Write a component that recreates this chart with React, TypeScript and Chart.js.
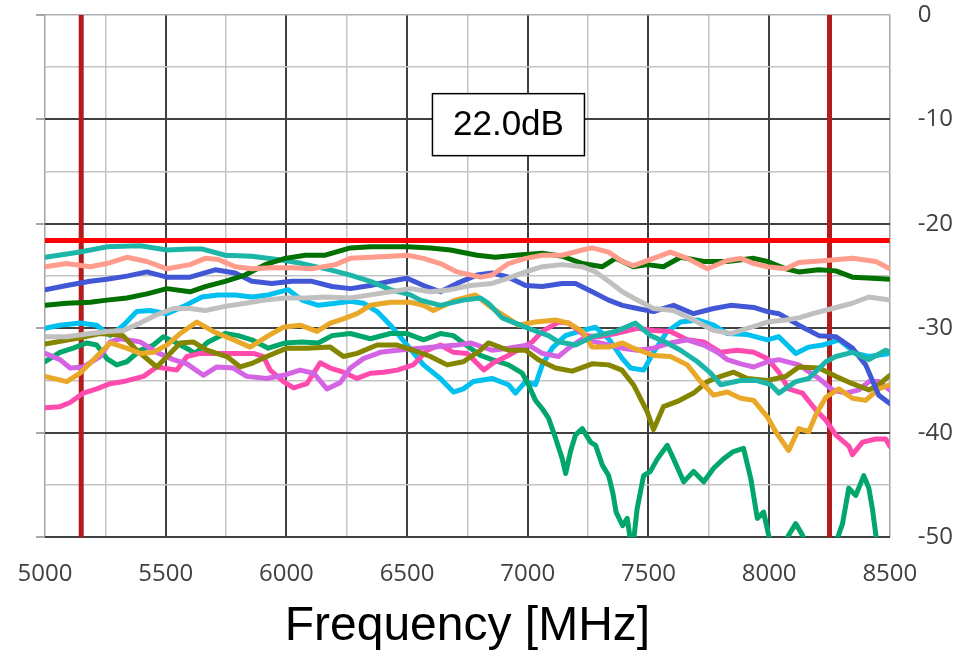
import React, { useEffect, useRef } from "react";
import { Chart, registerables } from "chart.js";

Chart.register(...registerables);

// ---- axes / annotation values ----
const X_MIN = 5000;
const X_MAX = 8500;
const X_STEP = 250;
const X_LABEL_EVERY = 500;
const Y_MIN = -50;
const Y_MAX = 0;
const Y_STEP = 5;
const Y_LABEL_EVERY = 10;
const LIMIT_DB = -21.6;
const MARKER_FREQS = [5150, 8250];
const LABEL_TEXT = "22.0dB";
const LABEL_AT = [6920, -10.5];
const X_TITLE = "Frequency [MHz]";

// ---- series: [MHz, dB] ----
const SILVER: number[][] = [[5000,-30.8],[5090,-30.8],[5187,-30.5],[5256,-30.3],[5325,-30.2],[5394,-29.5],[5463,-28.7],[5532,-28.1],[5601,-28.1],[5664,-28.3],[5746,-27.9],[5829,-27.6],[5912,-27.3],[5995,-27.1],[6078,-27.1],[6161,-27.0],[6265,-27.1],[6348,-26.8],[6431,-26.5],[6514,-26.2],[6597,-26.5],[6680,-26.3],[6763,-25.9],[6852,-25.7],[6920,-25.2],[6991,-24.6],[7060,-24.1],[7143,-23.9],[7226,-24.1],[7281,-24.6],[7335,-25.5],[7392,-26.5],[7438,-27.1],[7521,-28.1],[7604,-28.3],[7687,-29.2],[7770,-30.2],[7841,-30.5],[7910,-30.0],[7993,-29.4],[8069,-29.2],[8123,-29.0],[8180,-28.6],[8262,-28.1],[8345,-27.6],[8413,-27.0],[8500,-27.3]];
const SALMON: number[][] = [[5000,-24.1],[5090,-23.8],[5187,-24.1],[5256,-23.8],[5339,-23.2],[5422,-23.6],[5505,-24.3],[5601,-23.9],[5664,-23.3],[5717,-23.4],[5788,-24.1],[5857,-24.3],[5940,-24.2],[6023,-24.2],[6106,-24.3],[6203,-23.9],[6265,-23.3],[6348,-23.2],[6431,-23.1],[6500,-23.0],[6568,-23.3],[6638,-23.8],[6707,-24.6],[6804,-25.1],[6852,-24.9],[6920,-23.8],[6991,-23.3],[7060,-23.0],[7143,-23.0],[7226,-22.5],[7267,-22.3],[7335,-22.7],[7392,-23.6],[7438,-24.0],[7521,-23.3],[7591,-22.7],[7661,-23.3],[7744,-24.3],[7827,-23.5],[7882,-23.3],[7937,-23.8],[7993,-24.1],[8069,-24.3],[8123,-23.7],[8235,-23.5],[8345,-23.3],[8442,-23.6],[8500,-24.3]];
const DARK_GREEN: number[][] = [[5000,-27.8],[5090,-27.6],[5187,-27.5],[5256,-27.3],[5339,-27.1],[5422,-26.7],[5505,-26.2],[5601,-26.5],[5664,-26.0],[5746,-25.5],[5829,-24.9],[5912,-23.9],[5995,-23.3],[6078,-23.0],[6161,-23.0],[6265,-22.3],[6348,-22.2],[6431,-22.2],[6500,-22.2],[6597,-22.3],[6680,-22.5],[6790,-23.0],[6866,-23.2],[6949,-23.0],[7060,-22.8],[7143,-23.1],[7226,-23.8],[7309,-24.1],[7364,-23.3],[7438,-24.1],[7495,-23.9],[7562,-24.1],[7633,-23.2],[7729,-23.6],[7827,-23.6],[7936,-23.3],[7993,-23.6],[8069,-24.3],[8123,-24.6],[8206,-24.4],[8276,-24.5],[8345,-25.1],[8428,-25.2],[8500,-25.3]];
const TEAL: number[][] = [[5000,-23.2],[5145,-22.7],[5256,-22.2],[5394,-22.1],[5505,-22.5],[5601,-22.4],[5650,-22.4],[5746,-23.0],[5857,-23.1],[5995,-23.5],[6065,-23.8],[6182,-24.4],[6265,-24.9],[6348,-25.5],[6431,-26.3],[6514,-26.8],[6555,-27.3],[6638,-27.8],[6733,-27.3],[6804,-27.1],[6837,-27.6],[6894,-29.0],[7003,-30.0],[7086,-30.7],[7127,-31.3],[7198,-31.6],[7267,-30.8],[7364,-30.3],[7446,-29.5],[7509,-30.7],[7578,-31.4],[7633,-32.1],[7703,-33.2],[7758,-34.3],[7799,-35.4],[7882,-35.0],[7950,-35.0],[8007,-35.4],[8040,-36.2],[8110,-35.1],[8164,-34.8],[8235,-33.2],[8276,-32.7],[8345,-32.3],[8413,-33.0],[8483,-32.1],[8500,-32.3]];
const BLUE: number[][] = [[5000,-26.3],[5090,-25.9],[5187,-25.5],[5256,-25.3],[5339,-25.0],[5422,-24.6],[5505,-25.1],[5601,-25.1],[5705,-24.4],[5788,-24.7],[5857,-25.5],[5940,-25.7],[6023,-25.5],[6106,-25.5],[6189,-26.0],[6265,-26.2],[6348,-25.9],[6431,-25.5],[6500,-25.2],[6568,-25.9],[6638,-26.5],[6707,-25.7],[6790,-24.9],[6852,-24.7],[6920,-25.1],[6991,-25.9],[7060,-26.0],[7143,-25.7],[7198,-25.7],[7267,-26.5],[7335,-27.3],[7392,-27.8],[7454,-28.1],[7521,-28.4],[7604,-27.8],[7687,-28.6],[7770,-28.1],[7841,-27.8],[7936,-28.0],[7993,-28.4],[8040,-28.6],[8123,-29.7],[8206,-30.7],[8276,-30.8],[8345,-31.9],[8400,-33.5],[8454,-36.4],[8500,-37.2]];
const ORANGE: number[][] = [[5000,-34.6],[5090,-35.1],[5145,-34.3],[5214,-32.7],[5270,-31.4],[5339,-31.9],[5394,-32.4],[5448,-32.3],[5505,-31.6],[5560,-30.5],[5629,-29.4],[5697,-30.3],[5780,-31.1],[5850,-31.8],[5919,-30.8],[5987,-29.9],[6057,-29.7],[6127,-30.3],[6182,-29.5],[6236,-29.1],[6293,-28.6],[6348,-27.8],[6431,-27.5],[6514,-27.5],[6568,-27.8],[6609,-28.3],[6700,-27.3],[6783,-26.8],[6837,-27.8],[6961,-29.7],[7032,-29.4],[7115,-29.2],[7169,-29.5],[7226,-30.3],[7267,-31.8],[7335,-31.8],[7392,-31.4],[7438,-31.9],[7521,-32.6],[7591,-32.7],[7661,-33.5],[7716,-35.1],[7770,-36.4],[7827,-36.1],[7882,-36.7],[7936,-36.9],[7993,-38.5],[8027,-39.9],[8081,-41.7],[8123,-39.6],[8164,-39.9],[8193,-38.3],[8235,-36.6],[8289,-35.8],[8345,-36.7],[8400,-36.9],[8454,-35.8],[8500,-35.4]];
const OLIVE: number[][] = [[5000,-31.5],[5145,-30.9],[5228,-30.5],[5323,-30.7],[5380,-32.1],[5463,-33.7],[5518,-32.4],[5560,-31.4],[5614,-31.3],[5671,-32.1],[5754,-32.7],[5809,-33.7],[5863,-33.3],[5919,-32.7],[6002,-31.9],[6085,-31.9],[6182,-31.8],[6236,-32.7],[6293,-32.4],[6376,-31.6],[6459,-31.6],[6526,-32.1],[6597,-32.7],[6666,-33.5],[6733,-33.2],[6804,-32.1],[6837,-31.4],[6920,-32.1],[6991,-32.1],[7044,-33.0],[7115,-33.8],[7184,-34.1],[7267,-33.4],[7335,-33.5],[7390,-34.0],[7438,-35.4],[7495,-38.0],[7521,-39.7],[7562,-37.5],[7620,-37.0],[7687,-36.2],[7744,-35.1],[7799,-34.6],[7853,-34.2],[7910,-34.8],[7993,-35.0],[8069,-34.6],[8123,-33.7],[8206,-33.8],[8276,-34.6],[8345,-35.3],[8413,-35.9],[8454,-35.4],[8500,-34.5]];
const ORCHID: number[][] = [[5000,-32.4],[5062,-33.0],[5104,-33.8],[5159,-33.7],[5228,-32.7],[5270,-31.3],[5311,-31.0],[5394,-31.3],[5463,-32.3],[5532,-33.0],[5588,-33.4],[5656,-34.5],[5712,-33.7],[5780,-33.8],[5836,-34.6],[5919,-34.8],[5988,-34.5],[6057,-34.0],[6113,-34.3],[6168,-35.8],[6223,-35.2],[6265,-33.8],[6319,-32.9],[6389,-32.3],[6459,-32.1],[6555,-31.9],[6707,-31.6],[6763,-31.4],[6852,-32.1],[6920,-31.9],[7003,-31.6],[7060,-32.4],[7127,-32.7],[7169,-31.9],[7226,-31.0],[7281,-31.3],[7335,-31.6],[7392,-31.9],[7454,-32.1],[7521,-31.9],[7591,-31.4],[7661,-31.1],[7729,-31.6],[7786,-32.3],[7827,-33.0],[7882,-33.4],[7936,-33.7],[7993,-33.2],[8040,-33.0],[8123,-33.5],[8206,-34.8],[8262,-35.9],[8318,-36.2],[8372,-35.9],[8413,-35.1],[8454,-35.1],[8500,-35.9]];
const PINK: number[][] = [[5000,-37.6],[5062,-37.5],[5104,-37.1],[5159,-36.2],[5214,-35.8],[5270,-35.3],[5325,-35.1],[5408,-34.6],[5463,-33.7],[5546,-34.0],[5588,-32.7],[5643,-32.4],[5754,-32.4],[5864,-32.4],[5905,-32.7],[5933,-34.0],[5988,-35.1],[6030,-35.7],[6085,-35.3],[6140,-33.3],[6182,-33.8],[6236,-34.2],[6293,-34.8],[6348,-34.3],[6403,-34.2],[6459,-34.0],[6526,-33.5],[6583,-32.1],[6638,-31.6],[6692,-32.3],[6749,-32.4],[6818,-34.0],[6858,-33.3],[6928,-32.5],[7018,-31.3],[7060,-30.3],[7127,-29.4],[7169,-29.5],[7239,-30.7],[7293,-30.8],[7364,-30.5],[7454,-30.0],[7521,-30.2],[7591,-30.3],[7661,-31.1],[7729,-31.3],[7799,-32.3],[7868,-32.1],[7936,-32.3],[7993,-32.9],[8040,-34.2],[8081,-35.8],[8138,-36.2],[8193,-37.8],[8235,-38.8],[8276,-40.2],[8331,-41.3],[8345,-42.1],[8387,-40.9],[8442,-40.6],[8483,-40.6],[8500,-41.3]];
const JADE: number[][] = [[5000,-33.2],[5062,-32.3],[5117,-31.9],[5173,-31.4],[5214,-31.6],[5256,-32.9],[5297,-33.5],[5339,-33.2],[5394,-32.1],[5449,-31.6],[5491,-30.8],[5546,-31.4],[5601,-32.1],[5622,-32.4],[5676,-31.3],[5746,-30.5],[5800,-30.7],[5857,-31.1],[5925,-31.9],[5995,-31.4],[6065,-31.3],[6132,-31.4],[6189,-30.7],[6265,-30.5],[6348,-31.0],[6431,-30.5],[6500,-30.5],[6568,-31.1],[6638,-30.5],[6692,-30.7],[6763,-31.9],[6804,-32.6],[6852,-33.0],[6920,-33.5],[6977,-34.3],[7003,-35.4],[7032,-36.9],[7060,-37.7],[7086,-38.6],[7115,-40.5],[7143,-42.5],[7157,-43.9],[7177,-41.8],[7198,-40.2],[7226,-39.6],[7260,-40.9],[7281,-41.2],[7309,-43.1],[7335,-44.1],[7352,-45.7],[7366,-47.6],[7393,-48.9],[7412,-48.2],[7433,-51.5],[7453,-47.3],[7480,-44.1],[7508,-43.7],[7537,-42.5],[7578,-41.2],[7604,-42.5],[7646,-44.7],[7687,-43.7],[7729,-44.7],[7770,-43.4],[7811,-42.5],[7852,-41.8],[7894,-41.5],[7924,-44.4],[7951,-48.2],[7977,-47.6],[7998,-49.8],[8027,-52.0],[8081,-49.8],[8110,-48.7],[8138,-49.8],[8172,-52.0],[8255,-52.0],[8304,-48.7],[8330,-45.3],[8359,-46.0],[8392,-44.1],[8413,-45.3],[8428,-47.3],[8449,-51.0],[8500,-53.0]];
const SKY: number[][] = [[5000,-30.0],[5062,-29.7],[5145,-29.5],[5214,-29.7],[5270,-30.7],[5325,-29.7],[5380,-28.4],[5435,-28.3],[5505,-28.6],[5574,-27.9],[5650,-27.0],[5717,-26.8],[5788,-26.8],[5857,-27.0],[5925,-26.8],[6008,-26.3],[6065,-27.3],[6132,-27.8],[6203,-27.6],[6265,-27.4],[6319,-27.6],[6376,-28.4],[6431,-29.7],[6500,-31.6],[6568,-33.5],[6638,-34.8],[6692,-36.1],[6733,-35.8],[6775,-35.1],[6852,-34.8],[6920,-35.4],[6949,-36.2],[6991,-35.1],[7032,-35.4],[7060,-33.5],[7101,-31.9],[7156,-30.7],[7226,-30.2],[7281,-29.9],[7335,-31.0],[7392,-32.9],[7426,-33.8],[7480,-34.0],[7521,-32.3],[7578,-30.3],[7633,-29.4],[7703,-29.2],[7770,-29.7],[7827,-30.5],[7910,-30.6],[7993,-31.1],[8040,-30.8],[8110,-32.4],[8164,-31.8],[8221,-31.6],[8289,-31.1],[8359,-32.4],[8413,-32.7],[8500,-32.4]];

const SERIES_DATA = [SILVER, SALMON, DARK_GREEN, TEAL, BLUE, ORANGE, OLIVE, ORCHID, PINK, JADE, SKY];
const SERIES_COLORS = ["#C0C0C0", "#FF9C8C", "#007000", "#1CB5A8", "#4257D6", "#EAA829", "#858500", "#D464E4", "#FF4BAE", "#00A66A", "#00C0F0"];

const TICK_FONT = { family: '"Open Sans", "Noto Sans", sans-serif', size: 24 };

const labelBoxPlugin = {
  id: "labelBox",
  afterDraw(chart: any) {
    const { ctx, scales } = chart;
    const cx = scales.x.getPixelForValue(LABEL_AT[0]);
    const cy = scales.y.getPixelForValue(LABEL_AT[1]);
    const w = 152;
    const h = 62;
    ctx.save();
    ctx.fillStyle = "#ffffff";
    ctx.fillRect(cx - w / 2, cy - h / 2, w, h);
    ctx.strokeStyle = "#000000";
    ctx.lineWidth = 1.5;
    ctx.strokeRect(cx - w / 2, cy - h / 2, w, h);
    ctx.fillStyle = "#000000";
    ctx.font = '35px "Liberation Sans", Arial, sans-serif';
    ctx.textAlign = "center";
    ctx.textBaseline = "middle";
    ctx.fillText(LABEL_TEXT, cx, cy + 1);
    ctx.restore();
  },
};

export default function App() {
  const ref = useRef<HTMLCanvasElement | null>(null);

  useEffect(() => {
    if (!ref.current) return;
    const lineBase = {
      pointRadius: 0,
      tension: 0,
      borderJoinStyle: "round",
      borderCapStyle: "round",
      clip: 0,
      xAxisID: "x",
      yAxisID: "y",
    };
    const datasets: any[] = SERIES_DATA.map((s, i) => ({
      ...lineBase,
      data: s.map(([x, y]) => ({ x, y })),
      borderColor: SERIES_COLORS[i],
      borderWidth: 5,
    }));
    datasets.push({
      ...lineBase,
      borderCapStyle: "butt",
      data: [{ x: X_MIN, y: LIMIT_DB }, { x: X_MAX, y: LIMIT_DB }],
      borderColor: "#FF0000",
      borderWidth: 5,
    });
    MARKER_FREQS.forEach((f) =>
      datasets.push({
        ...lineBase,
        borderCapStyle: "butt",
        data: [{ x: f, y: Y_MAX }, { x: f, y: Y_MIN }],
        borderColor: "#B21C1C",
        borderWidth: 5,
      })
    );

    const chart = new Chart(ref.current, {
      type: "line",
      data: { datasets },
      plugins: [labelBoxPlugin],
      options: {
        animation: false,
        responsive: true,
        maintainAspectRatio: false,
        events: [],
        layout: { padding: { left: 36, right: 20, top: 15, bottom: 0 } },
        plugins: { legend: { display: false }, tooltip: { enabled: false } },
        scales: {
          x: {
            type: "linear",
            position: "bottom",
            min: X_MIN,
            max: X_MAX,
            border: { display: false },
            grid: {
              drawTicks: true,
              tickLength: 23,
              tickColor: "rgba(0,0,0,0)",
              color: (c: any) => {
                const v = c.tick?.value;
                if (v === X_MIN || v === X_MAX) return "#A6A6A6";
                return v % X_LABEL_EVERY === 0 ? "#404040" : "#C4C4C4";
              },
              lineWidth: (c: any) => {
                const v = c.tick?.value;
                return v % X_LABEL_EVERY === 0 && v !== X_MIN && v !== X_MAX ? 2 : 1.5;
              },
            },
            ticks: {
              stepSize: X_STEP,
              autoSkip: false,
              maxRotation: 0,
              padding: 0,
              color: "#404040",
              font: TICK_FONT,
              callback: (v: any) => (Number(v) % X_LABEL_EVERY === 0 ? String(v) : ""),
            },
            title: {
              display: true,
              text: X_TITLE,
              color: "#000000",
              font: { family: '"Liberation Sans", Arial, sans-serif', size: 48, lineHeight: 1 },
              padding: { top: 14, bottom: 1 },
            },
          },
          y: {
            type: "linear",
            position: "right",
            min: Y_MIN,
            max: Y_MAX,
            border: { display: false },
            grid: {
              drawTicks: true,
              tickLength: 28,
              tickColor: "rgba(0,0,0,0)",
              color: (c: any) => {
                const v = c.tick?.value;
                if (v === Y_MAX) return "#B0B0B0";
                return v % Y_LABEL_EVERY === 0 ? "#404040" : "#C4C4C4";
              },
              lineWidth: (c: any) => {
                const v = c.tick?.value;
                return v % Y_LABEL_EVERY === 0 && v !== Y_MAX ? 2 : 1.5;
              },
            },
            ticks: {
              stepSize: Y_STEP,
              autoSkip: false,
              padding: 0,
              color: "#404040",
              font: TICK_FONT,
              callback: (v: any) => (Number(v) % Y_LABEL_EVERY === 0 ? String(v) : ""),
            },
          },
          yl: {
            type: "linear",
            position: "left",
            min: Y_MIN,
            max: Y_MAX,
            border: { display: false },
            grid: { drawOnChartArea: false, drawTicks: true, tickLength: 9, color: "#A6A6A6", lineWidth: 2 },
            ticks: { display: false, stepSize: Y_LABEL_EVERY },
          },
        },
      } as any,
    });
    return () => chart.destroy();
  }, []);

  return (
    <div style={{ position: "absolute", left: 0, top: 0, width: 973, height: 652, background: "#fff" }}>
      <canvas ref={ref} />
    </div>
  );
}
